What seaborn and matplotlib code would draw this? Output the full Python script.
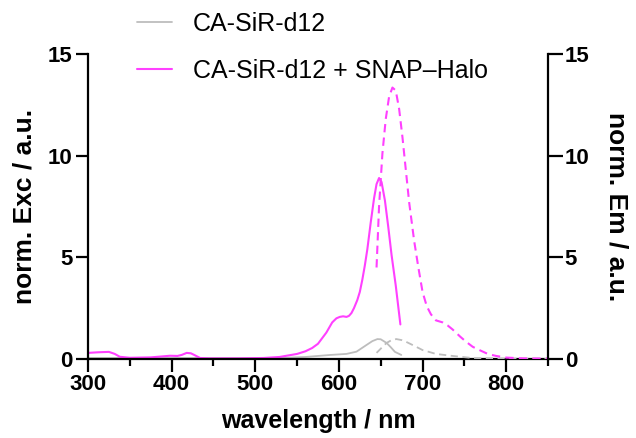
import numpy as np
import pandas as pd
import matplotlib
matplotlib.use("Agg")
import matplotlib.pyplot as plt
import seaborn as sns
from matplotlib.ticker import MultipleLocator

# ---- data ----
exc_halo_nm = [300, 312, 325, 332, 338, 350, 375, 398, 407, 412, 418, 423, 427, 434, 445, 480, 510, 529, 550,
               560, 568, 575, 585, 592, 597, 601, 605, 609, 612, 615, 618, 622, 625, 628, 631, 634, 638, 642,
               645, 648, 651, 655, 659, 663, 668, 673.5]
exc_halo = [0.3, 0.33, 0.35, 0.25, 0.11, 0.06, 0.08, 0.16, 0.15, 0.2, 0.3, 0.28, 0.2, 0.05, 0.03, 0.03, 0.05, 0.1, 0.25,
            0.38, 0.54, 0.75, 1.3, 1.8, 2.0, 2.07, 2.1, 2.07, 2.12, 2.26, 2.5, 2.9, 3.3, 3.9, 4.6, 5.4, 6.7, 7.9,
            8.6, 8.9, 8.7, 7.8, 6.5, 5.1, 3.6, 1.7]

em_halo_nm = [645, 648, 652, 656, 660, 664, 668, 672, 676, 680, 684, 690, 695, 700, 705, 710, 716,
              724, 730, 736, 745, 752, 760, 768, 778, 788, 800, 820, 850]
em_halo = [4.5, 7.5, 10.1, 11.8, 12.9, 13.35, 13.2, 12.3, 10.9, 9.3, 7.7, 5.8, 4.5, 3.3, 2.6, 2.2, 1.9,
           1.8, 1.65, 1.45, 1.1, 0.85, 0.6, 0.44, 0.25, 0.15, 0.07, 0.03, 0.02]

exc_dye_nm = [300, 400, 500, 529, 560, 590, 609, 621, 633, 640, 646, 650, 657, 662, 667, 674.6]
exc_dye = [0.05, 0.05, 0.05, 0.05, 0.1, 0.2, 0.25, 0.36, 0.69, 0.88, 0.98, 0.97, 0.79, 0.58, 0.35, 0.2]

em_dye_nm = [645, 651, 657, 663, 668.7, 675, 680.6, 690, 700, 716, 736, 759, 800, 850]
em_dye = [0.3, 0.55, 0.79, 0.93, 0.98, 0.93, 0.84, 0.65, 0.44, 0.25, 0.15, 0.05, 0.02, 0.01]

x_ticks = [300, 400, 500, 600, 700, 800]
y_ticks = [0, 5, 10, 15]

label_dye = "CA-SiR-d12"
label_halo = "CA-SiR-d12 + SNAP\u2013Halo"

MAGENTA = "#FF40FF"
GRAY = "#BDBDBD"

sns.set_style("ticks")
plt.rcParams['font.family'] = ['Liberation Sans', 'DejaVu Sans']
for k in ['text.color', 'axes.labelcolor', 'xtick.color', 'ytick.color', 'axes.edgecolor']:
    plt.rcParams[k] = 'black'

fig = plt.figure(figsize=(6.36, 4.38), dpi=100)
ax = fig.add_axes([88/636, 1-359/438, (548-88)/636, (359-54)/438])
ax2 = ax.twinx()

sns.lineplot(x=exc_dye_nm, y=exc_dye, ax=ax, color=GRAY, lw=1.3, label=label_dye, legend=False)
sns.lineplot(x=exc_halo_nm, y=exc_halo, ax=ax, color=MAGENTA, lw=1.5, label=label_halo, legend=False)
sns.lineplot(x=em_dye_nm, y=em_dye, ax=ax2, color=GRAY, lw=1.3, linestyle=(0, (4, 2.5)), legend=False)
sns.lineplot(x=em_halo_nm, y=em_halo, ax=ax2, color=MAGENTA, lw=1.5, linestyle=(0, (4, 2.5)), legend=False)

for a in (ax, ax2):
    a.set_xlim(300, 850)
    a.set_ylim(0, 15)
    a.set_yticks(y_ticks)
    for s in a.spines.values():
        s.set_linewidth(1.6)
    a.spines['top'].set_visible(False)

ax.spines['right'].set_visible(False)
ax2.spines['left'].set_visible(False)
ax2.spines['bottom'].set_visible(False)

ax.set_xticks(x_ticks)
ax.xaxis.set_minor_locator(MultipleLocator(50))
ax.tick_params(axis='both', which='major', length=9, width=1.6, labelsize=16, pad=2)
ax.tick_params(axis='x', which='minor', length=5, width=1.6)
ax2.tick_params(axis='y', which='major', length=11, width=1.6, labelsize=16, pad=1)
for lab in ax.get_xticklabels() + ax.get_yticklabels() + ax2.get_yticklabels():
    lab.set_fontweight('bold')

ax.set_xlabel("wavelength / nm", fontsize=18, fontweight='bold', labelpad=10)
ax.set_ylabel("norm. Exc / a.u.", fontsize=19, fontweight='bold', labelpad=8)
ax2.set_ylabel("norm. Em / a.u.", fontsize=19, fontweight='bold', rotation=-90, labelpad=28)

h, l = ax.get_legend_handles_labels()
fig.legend(h, l, loc='upper left', bbox_to_anchor=(137/636, 1-12/438), frameon=False,
           fontsize=18, handlelength=1.4, handletextpad=0.85, labelspacing=0.9,
           borderpad=0, borderaxespad=0)

fig.savefig("out.png", dpi=100)
